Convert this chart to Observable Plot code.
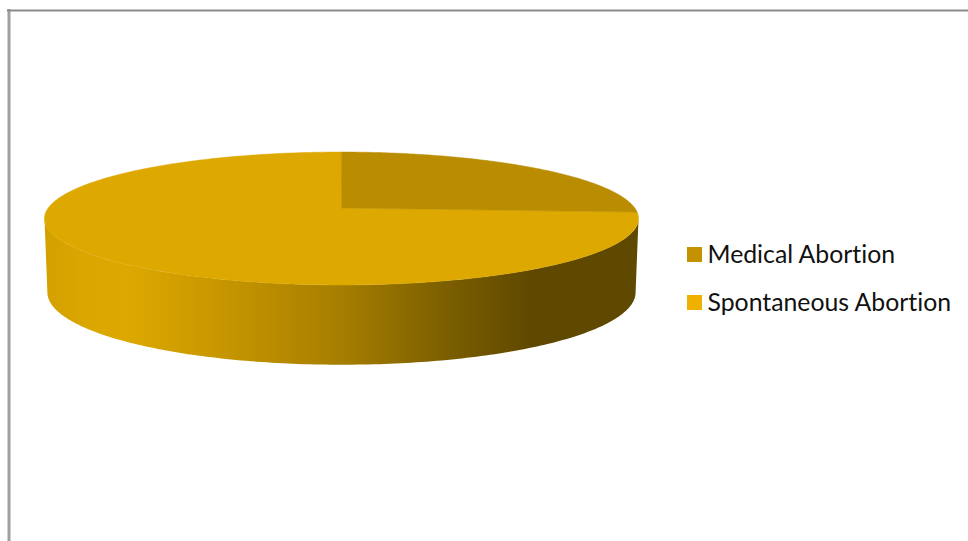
<!DOCTYPE html>
<html>
<head>
<meta charset="utf-8">
<style>
  html, body { margin: 0; padding: 0; background: #fff; }
  svg { display: block; }
  svg text { font-variant-ligatures: none; }
</style>
<script src="https://cdn.jsdelivr.net/npm/d3@7"></script>
<script src="https://cdn.jsdelivr.net/npm/@observablehq/plot@0.6"></script>
</head>
<body>
<div id="chart"></div>
<script>
// Shares of abortion type, drawn as a tilted pie with a thick side wall.
const categories = ["Medical Abortion", "Spontaneous Abortion"];
const shares = [26, 74];
const topColors = ["#BA8C00", "#DDA800"];
const legendColors = ["#C49200", "#F0B000"];

const W = 968, H = 541;

// Perspective circle: c = centre, R = x radius, b = y radius, k = foreshortening.
const topRim = {cx: 341.5, cy: 208, R: 293.3, b: 64.8, k: -0.158};
const lowRim = {cx: 341.5, cy: 281, R: 290.4, b: 70.5, k: -0.158};
const project = (rim, a) => {
  const w = 1 + rim.k * Math.sin(a);
  return [rim.cx + rim.R * Math.cos(a) / w, rim.cy + rim.b * Math.sin(a) / w];
};

// Slices run clockwise from twelve o'clock; a = 0 points right, a grows towards the viewer.
const total = d3.sum(shares);
let running = 0;
const slices = shares.map((v, i) => {
  const start = -Math.PI / 2 + running / total * 2 * Math.PI;
  running += v;
  const end = -Math.PI / 2 + running / total * 2 * Math.PI;
  const n = Math.ceil((end - start) * 90);
  const points = d3.range(n + 1).map(j => project(topRim, start + (end - start) * j / n));
  return {name: categories[i], color: topColors[i], points};
});

// The visible wall spans the rim between its two widest points.
const silhouette = Math.asin(-topRim.k);
const wallAngles = d3.range(181).map(j => silhouette + j / 180 * (Math.PI - 2 * silhouette));
const wall = wallAngles.map(a => ({top: project(topRim, a), low: project(lowRim, a)}));

const wallGradient = () => {
  const stops = [
    [0, "#D2A000"], [0.07, "#DBA600"], [0.14, "#DDA800"], [0.27, "#CB9900"],
    [0.5, "#A67E00"], [0.66, "#7F6100"], [0.82, "#5F4800"], [1, "#5F4800"]
  ];
  const ns = "http://www.w3.org/2000/svg";
  const defs = document.createElementNS(ns, "defs");
  const grad = document.createElementNS(ns, "linearGradient");
  grad.setAttribute("id", "wall-shade");
  stops.forEach(([o, c]) => {
    const s = document.createElementNS(ns, "stop");
    s.setAttribute("offset", o);
    s.setAttribute("stop-color", c);
    grad.appendChild(s);
  });
  defs.appendChild(grad);
  return defs;
};

const legendX = 687, legendSize = 15, legendTop = 247, legendStep = 48;

const chart = Plot.plot({
  width: W,
  height: H,
  margin: 0,
  style: {background: "#fff"},
  x: {domain: [0, W], range: [0, W], axis: null},
  y: {domain: [0, H], range: [0, H], axis: null},
  marks: [
    wallGradient,
    // frame around the chart area
    Plot.ruleX([8.5], {y1: 9, y2: H, stroke: "#A0A0A0", strokeWidth: 3}),
    Plot.ruleY([10], {x1: 7, x2: W, stroke: "#8C8C8C", strokeWidth: 2}),
    // side wall
    Plot.area(wall, {
      x1: d => d.top[0], y1: d => d.top[1],
      x2: d => d.low[0], y2: d => d.low[1],
      fill: "url(#wall-shade)"
    }),
    // top face, one fan per slice, the larger slice underneath
    ...slices.slice().reverse().map(s => Plot.area(s.points, {
      x1: d => d[0], y1: d => d[1],
      x2: topRim.cx, y2: topRim.cy,
      fill: s.color,
      stroke: s.color,
      strokeWidth: 0.5
    })),
    // legend
    Plot.rect(categories, {
      x1: legendX, x2: legendX + legendSize,
      y1: (d, i) => legendTop + i * legendStep,
      y2: (d, i) => legendTop + i * legendStep + legendSize,
      fill: (d, i) => legendColors[i]
    }),
    Plot.text(categories, {
      x: legendX + 20,
      y: (d, i) => legendTop + 7.5 + i * legendStep,
      text: d => d,
      textAnchor: "start",
      fontFamily: "Lato",
      fontSize: 24.8,
      fill: "#111"
    })
  ]
});
document.getElementById("chart").appendChild(chart);
</script>
</body>
</html>
